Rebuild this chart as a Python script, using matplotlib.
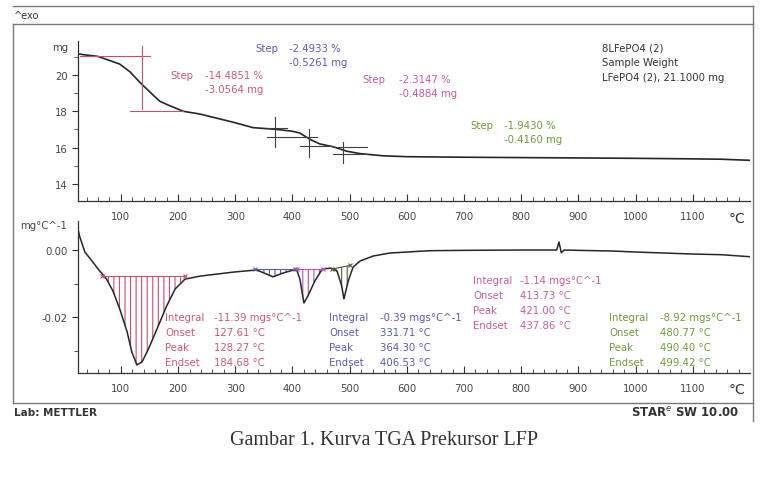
import matplotlib
matplotlib.use("Agg")
import matplotlib.pyplot as plt
import numpy as np

# ---------------- data ----------------
# TGA curve (temperature in degC, mass in mg)
tga_temp = [28, 34, 60, 98, 116, 133, 151, 168, 186, 209, 238, 296, 331, 373, 400,
            413, 431, 448, 471, 495, 518, 558, 600, 700, 800, 900, 1000, 1100, 1150, 1200]
tga_mass = [21.15, 21.12, 21.02, 20.6, 20.17, 19.6, 19.05, 18.55, 18.3, 18.0, 17.85,
            17.4, 17.1, 17.0, 16.9, 16.8, 16.45, 16.2, 16.05, 15.8, 15.67, 15.55,
            15.5, 15.47, 15.45, 15.43, 15.41, 15.38, 15.36, 15.3]

# DTG curve (temperature in degC, mg/degC)
dtg_temp = [26, 28, 37, 51, 63, 67, 75, 86, 98, 111, 119, 128, 137, 148, 163, 180, 195,
            212, 238, 296, 334, 338, 355, 366, 383, 401, 404, 408, 413, 420, 427, 439,
            452, 453, 466, 469, 478, 486, 490, 497, 500, 506, 518, 541, 570, 600, 640,
            700, 800, 862, 866, 870, 875, 900, 960, 1000, 1050, 1100, 1150, 1200]
dtg_val = [0.0055, 0.0040, -0.0006, -0.0036, -0.0063, -0.0070, -0.0087, -0.0122, -0.0176,
           -0.0245, -0.0304, -0.0343, -0.0334, -0.0296, -0.0236, -0.0167, -0.0116,
           -0.0087, -0.0078, -0.0066, -0.0060, -0.0060, -0.0072, -0.0080, -0.0069,
           -0.0060, -0.0058, -0.0062, -0.0087, -0.0158, -0.0137, -0.0093, -0.0057,
           -0.0057, -0.0054, -0.0055, -0.0063, -0.0107, -0.0146, -0.0096, -0.0080,
           -0.0051, -0.0033, -0.0018, -0.0009, -0.0006, -0.0002, -0.0001, 0.0, 0.0,
           0.0024, -0.0008, 0.0, -0.0001, -0.0003, -0.0006, -0.0009, -0.0012, -0.0014,
           -0.0020]

# peak integration regions: (start T, end T, baseline at start, baseline at end)
peak_start = [67, 334, 408, 469]
peak_end = [212, 404, 453, 500]
peak_base_start = [-0.0078, -0.0057, -0.0057, -0.0057]
peak_base_end = [-0.0078, -0.0057, -0.0057, -0.0046]
peak_colors = ["#c8506a", "#5a5aa8", "#c050a0", "#4f5f3a"]

# step evaluation lines on TGA (T1, T2, mass)
step_h_t1 = [28, 116, 355, 355, 413, 471, 471]
step_h_t2 = [151, 209, 390, 443, 471, 530, 530]
step_h_m = [21.05, 18.0, 17.1, 16.6, 16.1, 16.05, 15.67]
step_h_col = ["#c8506a", "#c8506a", "#404040", "#404040", "#404040", "#404040", "#404040"]
step_v_t = [137, 369, 429, 488]
step_v_m1 = [21.6, 17.67, 17.0, 16.33]
step_v_m2 = [18.1, 16.05, 15.5, 15.17]
step_v_col = ["#c8506a", "#404040", "#404040", "#404040"]

x_ticks = [100, 200, 300, 400, 500, 600, 700, 800, 900, 1000, 1100]
tga_yticks = [14, 16, 18, 20]
dtg_yticks = [0.00, -0.02]
dtg_ytick_labels = ["0.00", "-0.02"]

W, H = 766, 489
fig = plt.figure(figsize=(W / 100, H / 100), dpi=100)
plt.rcParams['font.family'] = ['DejaVu Sans']


def fx(x):
    return x / W


def fy(y):
    return 1 - y / H


def ftext(x, y, s, **kw):
    kw.setdefault('fontsize', 7.3)
    kw.setdefault('va', 'center')
    fig.text(fx(x), fy(y), s, **kw)


XL = (25, 1200)
# ---------------- top axes (TGA) ----------------
ax1 = fig.add_axes([fx(78), fy(202), fx(750) - fx(78), fy(42) - fy(202)])
ax1.plot(tga_temp, tga_mass, color="#262626", lw=1.2)
ax1.set_xlim(*XL)
ax1.set_ylim(13.06, 21.87)
for t1, t2, m, c in zip(step_h_t1, step_h_t2, step_h_m, step_h_col):
    ax1.plot([t1, t2], [m, m], color=c, lw=0.8)
for t, m1, m2, c in zip(step_v_t, step_v_m1, step_v_m2, step_v_col):
    ax1.plot([t, t], [m1, m2], color=c, lw=0.8)

# ---------------- bottom axes (DTG) ----------------
ax2 = fig.add_axes([fx(78), fy(374), fx(750) - fx(78), fy(222) - fy(374)])
ax2.plot(dtg_temp, dtg_val, color="#262626", lw=1.1)
ax2.set_xlim(*XL)
ax2.set_ylim(-0.0367, 0.00866)
plt.rcParams['hatch.linewidth'] = 0.8
tt = np.array(dtg_temp, dtype=float)
vv = np.array(dtg_val)
for a, b, b0, b1, c in zip(peak_start, peak_end, peak_base_start, peak_base_end, peak_colors):
    m = (tt >= a) & (tt <= b)
    base = b0 + (b1 - b0) * (tt - a) / (b - a)
    ax2.fill_between(tt[m], vv[m], base[m], facecolor='none', edgecolor=c,
                     hatch='|||', linewidth=0)
    ax2.plot([a, b], [b0, b1], color=c, lw=0.8)
    ax2.plot([a, b], [b0, b1], ls='none', marker='x', ms=3, mew=0.8, color=c)

for ax in (ax1, ax2):
    ax.spines['top'].set_visible(False)
    ax.spines['right'].set_visible(False)
    for s in ('left', 'bottom'):
        ax.spines[s].set_color('#333333')
        ax.spines[s].set_linewidth(0.9)
    ax.set_xticks(x_ticks)
    ax.set_xticks(np.arange(40, 1200, 20), minor=True)
    ax.tick_params(axis='x', which='major', direction='in', length=5, width=0.8,
                   labelsize=7.3, pad=7, colors='#333333', labelcolor='#444444')
    ax.tick_params(axis='x', which='minor', direction='in', length=3, width=0.6,
                   colors='#333333')
    ax.tick_params(axis='y', which='major', direction='out', length=4, width=0.8,
                   labelsize=7.3, colors='#333333', labelcolor='#444444')
    ax.tick_params(axis='y', which='minor', direction='out', length=3, width=0.6,
                   colors='#333333')
    ax.patch.set_alpha(0)

ax1.set_yticks(tga_yticks)
ax1.set_yticks([15, 17, 19, 21], minor=True)
ax2.set_yticks(dtg_yticks)
ax2.set_yticklabels(dtg_ytick_labels)
ax2.set_yticks([-0.01, -0.03], minor=True)

# axis unit labels
ftext(52, 48, "mg", color="#444444")
ftext(20, 226, "mg°C^-1", color="#444444")
ftext(729, 219, "°C", fontsize=10, color="#333333")
ftext(729, 390, "°C", fontsize=10, color="#333333")

# frame
frame = dict(color="#777777", lw=1.0, transform=fig.transFigure)
fig.add_artist(plt.Line2D([fx(13), fx(753)], [fy(7), fy(7)], **frame))
fig.add_artist(plt.Line2D([fx(13), fx(753)], [fy(25), fy(25)], **frame))
fig.add_artist(plt.Line2D([fx(13), fx(753)], [fy(404), fy(404)], **frame))
fig.add_artist(plt.Line2D([fx(13), fx(13)], [fy(25), fy(404)], **frame))
fig.add_artist(plt.Line2D([fx(753), fx(753)], [fy(7), fy(422)], **frame))
ftext(14, 16, "^exo", fontsize=7, color="#333333")

# step annotations
red, blue, mag, grn = "#cc5a72", "#5b5bb0", "#c85aa8", "#6f9a3c"
ftext(170, 76, "Step", color=red)
ftext(205, 76, "-14.4851 %", color=red)
ftext(205, 90, "-3.0564 mg", color=red)
ftext(255, 49, "Step", color=blue)
ftext(289, 49, "-2.4933 %", color=blue)
ftext(289, 63, "-0.5261 mg", color=blue)
ftext(362, 80, "Step", color=mag)
ftext(399, 80, "-2.3147 %", color=mag)
ftext(399, 94, "-0.4884 mg", color=mag)
ftext(470, 126, "Step", color=grn)
ftext(504, 126, "-1.9430 %", color=grn)
ftext(504, 140, "-0.4160 mg", color=grn)
ftext(602, 49, "8LFePO4 (2)", color="#333333")
ftext(602, 63, "Sample Weight", color="#333333")
ftext(602, 78, "LFePO4 (2), 21.1000 mg", color="#333333")

# integration annotations
def block(x, xv, y0, color, vals):
    names = ["Integral", "Onset", "Peak", "Endset"]
    for i, (n, v) in enumerate(zip(names, vals)):
        ftext(x, y0 + 15 * i, n, color=color)
        ftext(xv, y0 + 15 * i, v, color=color)

block(165, 214, 318, red, ["-11.39 mgs°C^-1", "127.61 °C", "128.27 °C", "184.68 °C"])
block(329, 380, 318, blue, ["-0.39 mgs°C^-1", "331.71 °C", "364.30 °C", "406.53 °C"])
block(473, 520, 281, mag, ["-1.14 mgs°C^-1", "413.73 °C", "421.00 °C", "437.86 °C"])
block(609, 660, 318, grn, ["-8.92 mgs°C^-1", "480.77 °C", "490.40 °C", "499.42 °C"])

# footer
ftext(14, 413, "Lab: METTLER", fontsize=7.5, fontweight='bold', color="#333333")
ftext(631, 413, "STAR$^e$ SW 10.00", fontsize=8.5, fontweight='bold', color="#333333")
fig.text(fx(384), fy(441), "Gambar 1. Kurva TGA Prekursor LFP", ha='center', va='center',
         fontsize=14.5, family='Liberation Serif', color="#333333")

fig.savefig("out.png", dpi=100)
